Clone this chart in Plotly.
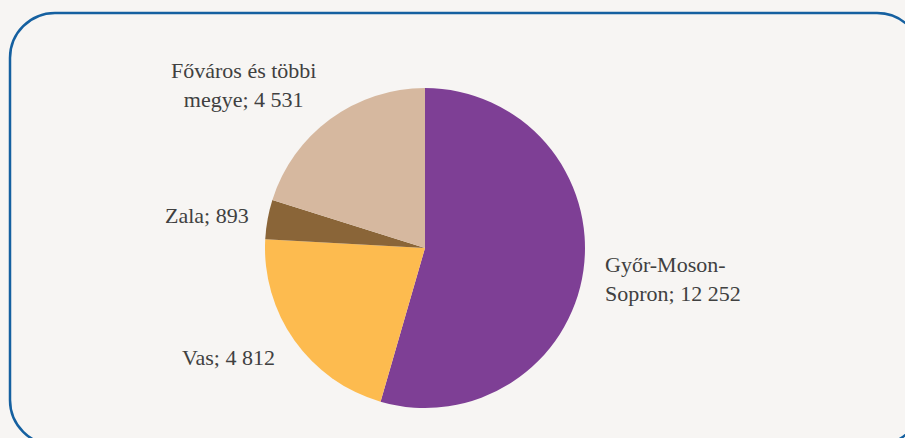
import plotly.graph_objects as go

W, H = 905, 438

megyek = ["Győr-Moson-Sopron", "Vas", "Zala", "Főváros és többi megye"]
ertekek = [12252, 4812, 893, 4531]
szinek = ["#7E3F95", "#FDBB4F", "#8A6538", "#D6B89F"]

# label text split into lines the way the original wraps them
cimke_sorok = [
    ["Győr-Moson-", "Sopron; {}"],
    ["Vas; {}"],
    ["Zala; {}"],
    ["Főváros és többi", "megye; {}"],
]


def fmt(v):
    return f"{v:,}".replace(",", " ")


def px(x, y):
    return x / W, 1 - y / H


fig = go.Figure()
fig.add_trace(go.Pie(
    labels=megyek, values=ertekek, sort=False, direction="clockwise",
    rotation=0, marker=dict(colors=szinek, line=dict(width=0)),
    textinfo="none", hoverinfo="label+value+percent", showlegend=False,
    domain=dict(x=[265 / W, 585 / W], y=[1 - 408 / H, 1 - 88 / H]),
))

# label placement (pixels): x, y, anchor
helyek = [(603, 279, "left"), (277, 357, "right"), (251, 215, "right"),
          (243, 85, "center")]
annots = []
for sorok, v, (x, y, anc) in zip(cimke_sorok, ertekek, helyek):
    text = "<br>".join(sorok).format(fmt(v))
    fx, fy = px(x, y)
    annots.append(dict(
        text=text, x=fx, y=fy, xref="paper", yref="paper", showarrow=False,
        xanchor=anc, yanchor="middle", align=anc,
        font=dict(family="Liberation Serif", size=22, color="#404040"),
    ))

# rounded frame, partly running off the page
L, T, R, B, r = 10, 13, 922, 445, 45
k = 0.5523 * r
pts = [
    ("M", [(L + r, T)]),
    ("L", [(R - r, T)]),
    ("C", [(R - r + k, T), (R, T + r - k), (R, T + r)]),
    ("L", [(R, B - r)]),
    ("C", [(R, B - r + k), (R - r + k, B), (R - r, B)]),
    ("L", [(L + r, B)]),
    ("C", [(L + r - k, B), (L, B - r + k), (L, B - r)]),
    ("L", [(L, T + r)]),
    ("C", [(L, T + r - k), (L + r - k, T), (L + r, T)]),
]
path = ""
for cmd, ps in pts:
    path += cmd + " ".join("{:.5f},{:.5f}".format(*px(x, y)) for x, y in ps) + " "
path += "Z"

fig.update_layout(
    width=W, height=H,
    margin=dict(l=0, r=0, t=0, b=0),
    paper_bgcolor="#F7F5F3", plot_bgcolor="#F7F5F3",
    annotations=annots,
    shapes=[dict(type="path", path=path, xref="paper", yref="paper",
                 line=dict(color="#1560A0", width=2.5), layer="above")],
)

fig.write_html(
    "out.html",
    config={"displayModeBar": False},
    post_script="document.body.style.margin='0';"
                "document.body.style.background='#F7F5F3';",
)
